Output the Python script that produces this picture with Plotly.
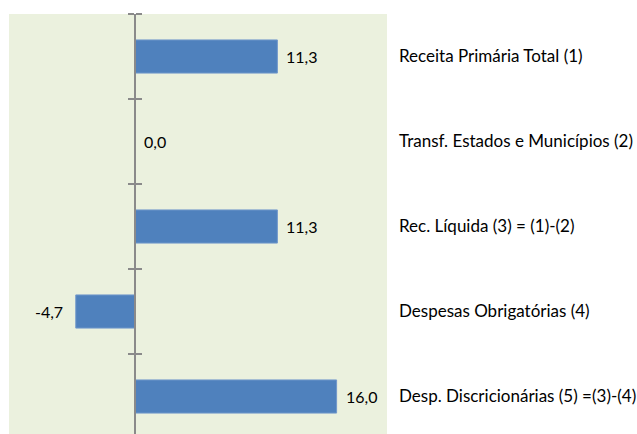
import plotly.graph_objects as go

categories = [
    "Receita Primária Total (1)",
    "Transf. Estados e Municípios (2)",
    "Rec. Líquida (3) = (1)-(2)",
    "Despesas Obrigatórias (4)",
    "Desp. Discricionárias (5) =(3)-(4)",
]
values = [11.3, 0.0, 11.3, -4.7, 16.0]
value_labels = [f"{v:.1f}".replace(".", ",") for v in values]

FONT = "Lato"
BAR = "#4F81BD"
BG = "#EBF1DE"
AXIS = "#8A8A8A"

fig = go.Figure()
fig.add_trace(go.Bar(
    x=values, y=categories, orientation="h",
    width=0.39,
    marker=dict(color=BAR, line=dict(color="#7399CB", width=1)),
    hoverinfo="skip", showlegend=False,
))
# invisible helper traces so the overlaid axes (zero line with boundary ticks) are drawn
for ax in ("y2", "y3"):
    fig.add_trace(go.Scatter(
        x=[0] * len(categories), y=categories, yaxis=ax, mode="markers",
        marker=dict(opacity=0), hoverinfo="skip", showlegend=False,
    ))

for v, c, t in zip(values, categories, value_labels):
    fig.add_annotation(
        x=v, y=c, xref="x", yref="y", text=t, showarrow=False,
        xanchor="left" if v >= 0 else "right",
        xshift=7 if v >= 0 else -11,
        font=dict(family=FONT, size=16, color="#000000"),
    )

ncat = len(categories)
yrange = [ncat - 0.5 - 5 / 85, -0.5]

common_cat = dict(type="category", categoryorder="array", categoryarray=categories,
                  range=yrange, fixedrange=True, automargin=False)

fig.update_layout(
    width=637, height=434,
    margin=dict(l=9, r=250, t=14, b=0),
    paper_bgcolor="#FFFFFF",
    plot_bgcolor=BG,
    xaxis=dict(range=[-10, 20], showgrid=False, zeroline=False,
               showticklabels=False, showline=False, ticks="", fixedrange=True),
    yaxis=dict(**common_cat, side="right", showgrid=False, showline=False, ticks="",
               tickfont=dict(family=FONT, size=17, color="#000000"),
               ticklabelstandoff=11),
    yaxis2=dict(**common_cat, overlaying="y", anchor="free", position=1 / 3,
                side="left", showgrid=False, showline=True, linecolor=AXIS,
                linewidth=1.5, ticks="outside", ticklen=6, tickwidth=1.5,
                tickcolor=AXIS, tickson="boundaries", showticklabels=False),
    yaxis3=dict(**common_cat, overlaying="y", anchor="free", position=1 / 3,
                side="right", showgrid=False, showline=False,
                ticks="outside", ticklen=6, tickwidth=1.5,
                tickcolor=AXIS, tickson="boundaries", showticklabels=False),
)

fig.write_html(
    "out.html",
    config={"displayModeBar": False},
    post_script="document.body.style.margin='0';document.body.style.overflow='hidden';",
)
